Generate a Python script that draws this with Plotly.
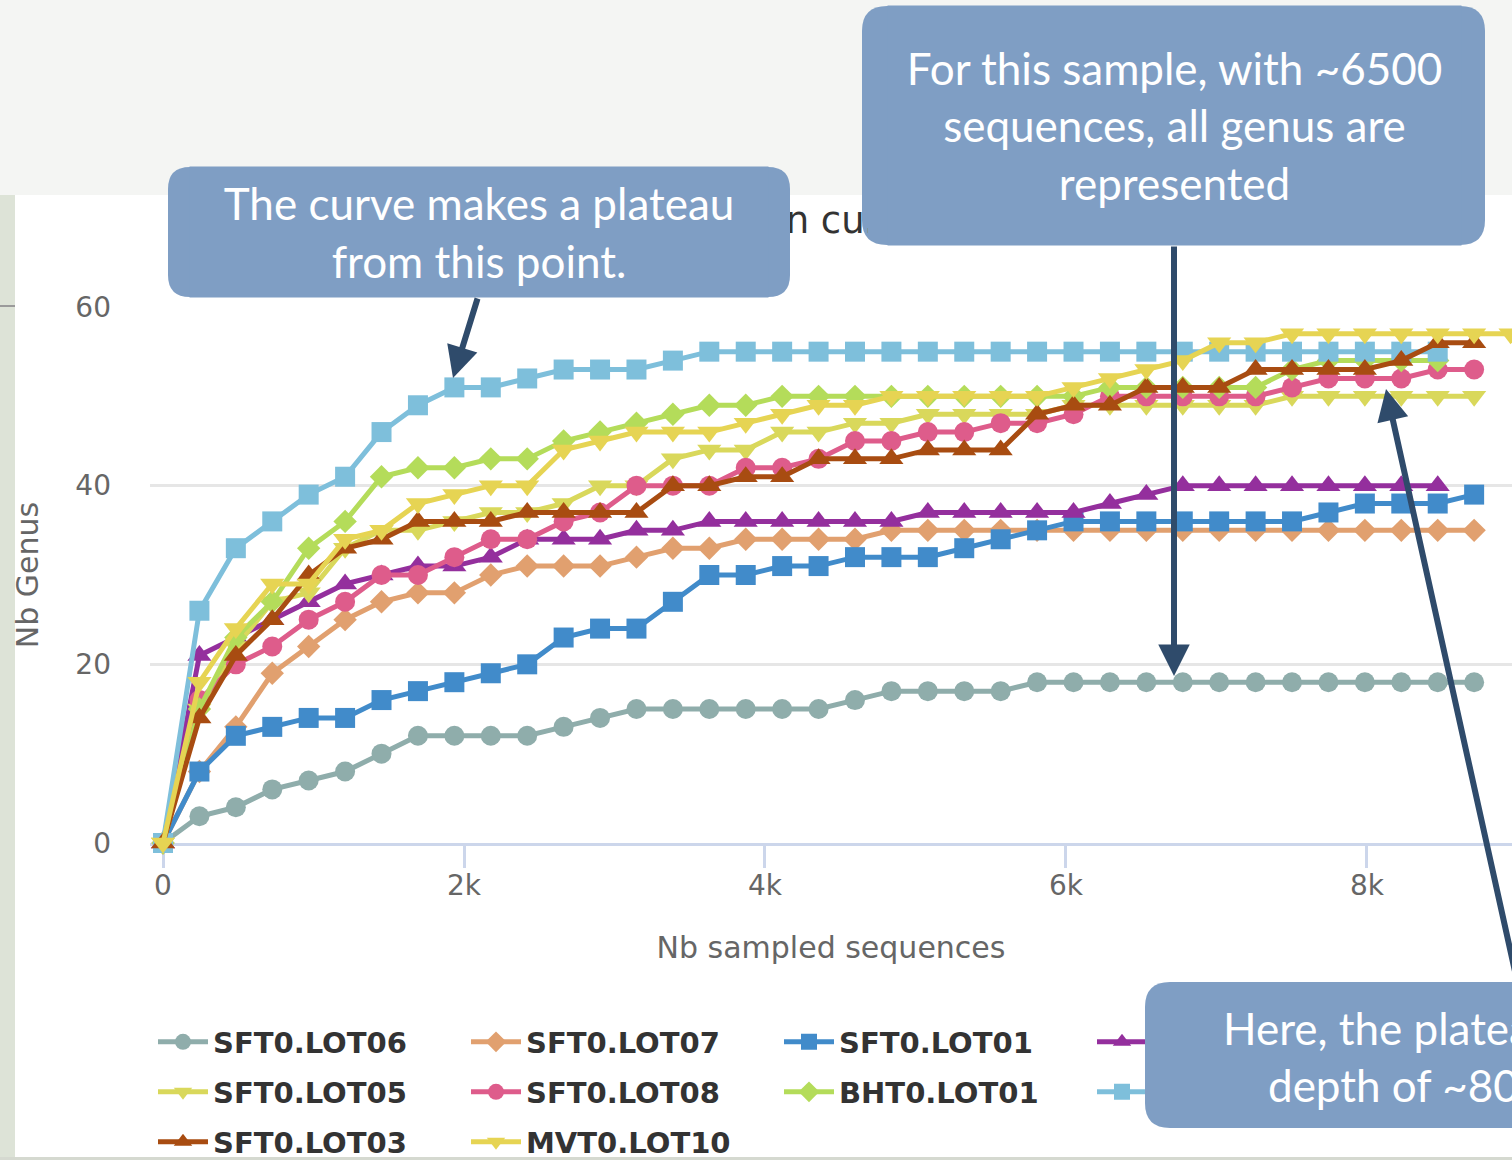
import plotly.graph_objects as go

# ---------------- data ----------------
sample_step = 242                     # sequences between two rarefaction points
x_ticks = [0, 2000, 4000, 6000, 8000]
y_ticks = [0, 20, 40, 60]

series_names = ["SFT0.LOT06", "SFT0.LOT07", "SFT0.LOT01", "SFT0.LOT02", "SFT0.LOT05",
                "SFT0.LOT08", "BHT0.LOT01", "SFT0.LOT04", "SFT0.LOT03", "MVT0.LOT10"]

sft0_lot06 = [0, 3, 4, 6, 7, 8, 10, 12, 12, 12, 12, 13, 14, 15, 15, 15, 15, 15, 15, 16,
              17, 17, 17, 17, 18, 18, 18, 18, 18, 18, 18, 18, 18, 18, 18, 18, 18]
sft0_lot07 = [0, 8, 13, 19, 22, 25, 27, 28, 28, 30, 31, 31, 31, 32, 33, 33, 34, 34, 34, 34,
              35, 35, 35, 35, 35, 35, 35, 35, 35, 35, 35, 35, 35, 35, 35, 35, 35]
sft0_lot01 = [0, 8, 12, 13, 14, 14, 16, 17, 18, 19, 20, 23, 24, 24, 27, 30, 30, 31, 31, 32,
              32, 32, 33, 34, 35, 36, 36, 36, 36, 36, 36, 36, 37, 38, 38, 38, 39]
sft0_lot02 = [0, 21, 23, 25, 27, 29, 30, 31, 31, 32, 34, 34, 34, 35, 35, 36, 36, 36, 36, 36,
              36, 37, 37, 37, 37, 37, 38, 39, 40, 40, 40, 40, 40, 40, 40, 40]
sft0_lot05 = [0, 15, 22, 27, 28, 33, 35, 35, 36, 37, 37, 38, 40, 40, 43, 44, 44, 46, 46, 47,
              47, 48, 48, 48, 48, 49, 49, 49, 49, 49, 49, 50, 50, 50, 50, 50, 50]
sft0_lot08 = [0, 16, 20, 22, 25, 27, 30, 30, 32, 34, 34, 36, 37, 40, 40, 40, 42, 42, 43, 45,
              45, 46, 46, 47, 47, 48, 50, 50, 50, 50, 50, 51, 52, 52, 52, 53, 53]
bht0_lot01 = [0, 15, 23, 27, 33, 36, 41, 42, 42, 43, 43, 45, 46, 47, 48, 49, 49, 50, 50, 50,
              50, 50, 50, 50, 50, 50, 51, 51, 51, 51, 51, 53, 54, 54, 54, 54]
sft0_lot04 = [0, 26, 33, 36, 39, 41, 46, 49, 51, 51, 52, 53, 53, 53, 54, 55, 55, 55, 55, 55,
              55, 55, 55, 55, 55, 55, 55, 55, 55, 55, 55, 55, 55, 55, 55, 55]
sft0_lot03 = [0, 14, 21, 25, 30, 33, 34, 36, 36, 36, 37, 37, 37, 37, 40, 40, 41, 41, 43, 43,
              43, 44, 44, 44, 48, 49, 49, 51, 51, 51, 53, 53, 53, 53, 54, 56, 56]
mvt0_lot10 = [0, 18, 24, 29, 29, 34, 35, 38, 39, 40, 40, 44, 45, 46, 46, 46, 47, 48, 49, 49,
              50, 50, 50, 50, 50, 51, 52, 53, 54, 56, 56, 57, 57, 57, 57, 57, 57, 57]

series_values = [sft0_lot06, sft0_lot07, sft0_lot01, sft0_lot02, sft0_lot05,
                 sft0_lot08, bht0_lot01, sft0_lot04, sft0_lot03, mvt0_lot10]

# ---------------- styles ----------------
colors = ["#8fadab", "#e1a06f", "#418bca", "#942f9d", "#d9d85b",
          "#de5c8b", "#b4dc5a", "#7ebfdb", "#a84c11", "#e6d453"]
symbols = ["circle", "diamond", "square", "triangle-up", "triangle-down",
           "circle", "diamond", "square", "triangle-up", "triangle-down"]
msizes = [20, 18, 20, 21, 21, 20, 18, 20, 21, 21]
legend_ids = ["legend", "legend", "legend", "legend", "legend2",
              "legend2", "legend2", "legend2", "legend3", "legend3"]

W, H = 1512, 1160
PL, PR, PT, PB = 150, 1512, 307, 843          # plot area in page pixels
X0, X1 = -86.4, 8963.6                          # x range shown
FONT = "DejaVu Sans"
CALL = "Lato"
BOX = "#7f9ec4"
ARROW = "#2f4b6b"


def fx(xp):
    return (xp - PL) / (PR - PL)


def fy(yp):
    return (PB - yp) / (PB - PT)


def dx(xp):
    return X0 + (xp - PL) / (PR - PL) * (X1 - X0)


def dy(yp):
    return (PB - yp) / (PB - PT) * 60


def rrect(x0, y0, x1, y1, r):
    p = [f"M{fx(x0 + r)},{fy(y0)}", f"L{fx(x1 - r)},{fy(y0)}",
         f"Q{fx(x1)},{fy(y0)} {fx(x1)},{fy(y0 + r)}", f"L{fx(x1)},{fy(y1 - r)}",
         f"Q{fx(x1)},{fy(y1)} {fx(x1 - r)},{fy(y1)}", f"L{fx(x0 + r)},{fy(y1)}",
         f"Q{fx(x0)},{fy(y1)} {fx(x0)},{fy(y1 - r)}", f"L{fx(x0)},{fy(y0 + r)}",
         f"Q{fx(x0)},{fy(y0)} {fx(x0 + r)},{fy(y0)}", "Z"]
    return " ".join(p)


def cover(x0, y0, x1, y1):
    return dict(xref="paper", yref="paper", x=fx((x0 + x1) / 2), y=fy((y0 + y1) / 2),
                xanchor="center", yanchor="middle", text=".", showarrow=False,
                width=x1 - x0, height=y1 - y0, bgcolor=BOX, borderpad=0, borderwidth=0,
                font=dict(color=BOX, size=8))


fig = go.Figure()
for name, vals, col, sym, ms, lg in zip(series_names, series_values, colors, symbols,
                                         msizes, legend_ids):
    fig.add_trace(go.Scatter(
        x=[i * sample_step for i in range(len(vals))], y=vals, name=name,
        mode="lines+markers", legend=lg, cliponaxis=False,
        line=dict(color=col, width=5),
        marker=dict(symbol=sym, size=ms, color=col, line=dict(width=0)),
    ))

shapes = [
    dict(type="rect", xref="paper", yref="paper", x0=fx(15), x1=fx(1530), y0=fy(195), y1=fy(1157),
         fillcolor="white", line=dict(width=0), layer="below"),
    dict(type="rect", xref="paper", yref="paper", x0=fx(-5), x1=fx(15), y0=fy(195), y1=fy(1165),
         fillcolor="#dde3d7", line=dict(width=0), layer="below"),
    dict(type="rect", xref="paper", yref="paper", x0=fx(-5), x1=fx(1530), y0=fy(1157), y1=fy(1165),
         fillcolor="#d5d9d0", line=dict(width=0), layer="below"),
    dict(type="line", xref="paper", yref="paper", x0=fx(0), x1=fx(15), y0=fy(306), y1=fy(306),
         line=dict(color="#9a9a9a", width=2), layer="below"),
    dict(type="path", xref="paper", yref="paper", path=rrect(168, 167, 790, 297, 22),
         fillcolor=BOX, line=dict(width=0), layer="above"),
    dict(type="path", xref="paper", yref="paper", path=rrect(862, 6, 1485, 245, 25),
         fillcolor=BOX, line=dict(width=0), layer="above"),
    dict(type="path", xref="paper", yref="paper", path=rrect(1145, 982, 1950, 1128, 25),
         fillcolor=BOX, line=dict(width=0), layer="above"),
]

ann = []
# callout 1
ann.append(cover(168, 189, 790, 275))
ann.append(dict(xref="paper", yref="paper", x=fx(479), y=fy(232), xanchor="center",
                yanchor="middle", showarrow=False, align="center",
                text="The curve makes a plateau<br>from this point.", width=578, height=130,
                bgcolor=BOX, borderpad=0, font=dict(family=CALL, size=44, color="white")))
# callout 2
ann.append(cover(862, 31, 1485, 220))
ann.append(cover(863, 218, 870, 228))
ann.append(cover(868, 218, 888, 238))
ann.append(dict(xref="paper", yref="paper", x=fx(1174), y=fy(125.5), xanchor="center",
                yanchor="middle", showarrow=False, align="center",
                text="For this sample, with ~6500<br>sequences, all genus are<br>represented",
                width=573, height=239, bgcolor=BOX, borderpad=0,
                font=dict(family=CALL, size=44, color="white")))
# callout 3
ann.append(cover(1145, 1007, 1950, 1103))
ann.append(cover(1170, 982, 1950, 1128))
ann.append(dict(xref="paper", yref="paper", x=fx(1221), y=fy(1028), xanchor="left",
                yanchor="middle", showarrow=False, text="Here, the plateau is reached at a",
                font=dict(family=CALL, size=44, color="white")))
ann.append(dict(xref="paper", yref="paper", x=fx(1266), y=fy(1085), xanchor="left",
                yanchor="middle", showarrow=False, text="depth of ~8000 sequences",
                font=dict(family=CALL, size=44, color="white")))
# arrows
for (hx, hy, tx, ty) in [(453, 378, 478, 297), (1174, 676, 1174, 245), (1386, 389, 1518, 985)]:
    ann.append(dict(x=dx(hx), y=dy(hy), xref="x", yref="y", ax=dx(tx), ay=dy(ty),
                    axref="x", ayref="y", text="", showarrow=True, arrowhead=2,
                    arrowsize=1.05, arrowwidth=6, arrowcolor=ARROW, standoff=0,
                    startstandoff=0))

leg_common = dict(orientation="h", xanchor="left", yanchor="middle", entrywidth=248,
                  entrywidthmode="pixels", itemwidth=50, bgcolor="rgba(0,0,0,0)",
                  font=dict(family=FONT, size=29, color="#333333", weight="bold"),
                  itemclick=False, itemdoubleclick=False)

fig.update_layout(
    width=W, height=H,
    margin=dict(l=PL, r=W - PR, t=PT, b=H - PB, autoexpand=False),
    paper_bgcolor="#f4f5f3", plot_bgcolor="rgba(0,0,0,0)",
    title=dict(text="Rarefaction curve", xref="container", yref="container",
               x=761 / W, y=1 - 220 / H, xanchor="center", yanchor="middle",
               font=dict(family=FONT, size=37, color="#333333")),
    xaxis=dict(range=[X0, X1], tickvals=x_ticks, tickformat="~s", showgrid=False,
               zeroline=False, showline=True, linecolor="#ccd6eb", linewidth=2.5,
               ticks="outside", ticklen=22, tickwidth=2.5, tickcolor="#ccd6eb",
               ticklabelstandoff=-6,
               tickfont=dict(family=FONT, size=28, color="#666666"), layer="below traces",
               title=dict(text="Nb sampled sequences", standoff=36,
                          font=dict(family=FONT, size=30, color="#666666"))),
    yaxis=dict(range=[0, 60], tickvals=y_ticks, showgrid=True, gridcolor="#e6e6e6",
               gridwidth=2.5, zeroline=False, showline=False, ticks="",
               ticklabelstandoff=38,
               tickfont=dict(family=FONT, size=28, color="#666666"),
               title=dict(text="Nb Genus", standoff=27,
                          font=dict(family=FONT, size=30, color="#666666"))),
    legend=dict(leg_common, x=fx(153), y=fy(1042)),
    legend2=dict(leg_common, x=fx(153), y=fy(1092)),
    legend3=dict(leg_common, x=fx(153), y=fy(1142)),
    shapes=shapes,
    annotations=ann,
    showlegend=True,
)

fig.write_html("out.html", config={"displayModeBar": False},
               post_script="document.body.style.margin='0px';")
